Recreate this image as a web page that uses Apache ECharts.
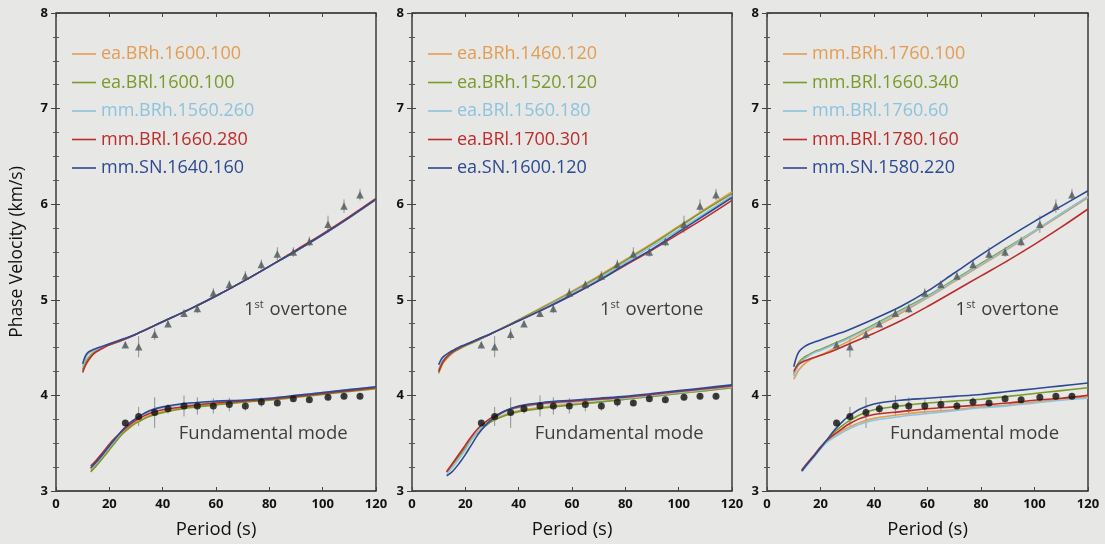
<!DOCTYPE html>
<html><head><meta charset="utf-8">
<script src="https://cdn.jsdelivr.net/npm/echarts@6/dist/echarts.min.js"></script>
<style>html,body{margin:0;padding:0;background:#e7e7e5;} #c{width:1105px;height:544px;}</style>
</head><body><div id="c"></div>
<script>
// ---------- data ----------
const xTicks = [0, 20, 40, 60, 80, 100, 120];
const yTicks = [3, 4, 5, 6, 7, 8];
const periodsOvertone = [10, 11, 12, 14, 16, 18, 20, 25, 30, 40, 50, 60, 70, 80, 90, 100, 110, 120];
const periodsFundamental = [13, 15, 18, 20, 22, 25, 28, 30, 35, 40, 50, 60, 70, 80, 90, 100, 110, 120];

const obsPeriods = [26, 31, 37, 42, 48, 53, 59, 65, 71, 77, 83, 89, 95, 102, 108, 114];
const obsOvertone = [4.53, 4.51, 4.64, 4.75, 4.86, 4.91, 5.07, 5.16, 5.25, 5.37, 5.48, 5.50, 5.61, 5.79, 5.98, 6.10];
const obsOvertoneErr = [0.03, 0.11, 0.06, 0.03, 0.04, 0.05, 0.05, 0.04, 0.05, 0.05, 0.07, 0.05, 0.05, 0.09, 0.07, 0.06];
const obsFundamental = [3.71, 3.78, 3.82, 3.86, 3.89, 3.89, 3.89, 3.905, 3.89, 3.93, 3.92, 3.965, 3.955, 3.98, 3.99, 3.99];
const obsFundamentalErr = [0.03, 0.10, 0.16, 0.05, 0.11, 0.09, 0.08, 0.07, 0.05, 0.05, 0.03, 0.03, 0.03, 0.03, 0.03, 0.03];

const modelColors = ['#e29d52', '#7a9a2a', '#8cc3de', '#bd2c2a', '#2d4992'];

// panel 1
const names1 = ['ea.BRh.1600.100', 'ea.BRl.1600.100', 'mm.BRh.1560.260', 'mm.BRl.1660.280', 'mm.SN.1640.160'];
const p1OvOrange = [4.27, 4.34, 4.39, 4.45, 4.48, 4.51, 4.53, 4.58, 4.64, 4.77, 4.90, 5.04, 5.19, 5.35, 5.51, 5.68, 5.86, 6.05];
const p1OvGreen  = [4.26, 4.33, 4.38, 4.44, 4.48, 4.51, 4.53, 4.58, 4.64, 4.77, 4.90, 5.04, 5.19, 5.35, 5.51, 5.68, 5.86, 6.05];
const p1OvLight  = [4.30, 4.38, 4.43, 4.47, 4.49, 4.51, 4.53, 4.58, 4.64, 4.77, 4.90, 5.04, 5.19, 5.35, 5.51, 5.68, 5.86, 6.05];
const p1OvRed    = [4.24, 4.31, 4.36, 4.43, 4.47, 4.50, 4.53, 4.58, 4.64, 4.77, 4.90, 5.04, 5.19, 5.35, 5.52, 5.69, 5.87, 6.06];
const p1OvBlue   = [4.33, 4.41, 4.45, 4.48, 4.50, 4.52, 4.54, 4.59, 4.64, 4.77, 4.90, 5.04, 5.19, 5.35, 5.51, 5.68, 5.86, 6.05];
const p1FmOrange = [3.22, 3.28, 3.38, 3.45, 3.52, 3.61, 3.68, 3.72, 3.79, 3.83, 3.88, 3.91, 3.93, 3.96, 3.99, 4.02, 4.05, 4.08];
const p1FmGreen  = [3.20, 3.26, 3.36, 3.43, 3.50, 3.60, 3.67, 3.71, 3.78, 3.82, 3.87, 3.90, 3.93, 3.95, 3.98, 4.01, 4.04, 4.07];
const p1FmLight  = [3.23, 3.29, 3.39, 3.46, 3.53, 3.63, 3.71, 3.75, 3.83, 3.87, 3.91, 3.93, 3.95, 3.97, 4.00, 4.03, 4.06, 4.09];
const p1FmRed    = [3.26, 3.32, 3.42, 3.49, 3.55, 3.63, 3.70, 3.74, 3.81, 3.85, 3.89, 3.92, 3.94, 3.96, 3.99, 4.02, 4.05, 4.08];
const p1FmBlue   = [3.24, 3.30, 3.40, 3.47, 3.54, 3.64, 3.72, 3.76, 3.84, 3.88, 3.92, 3.94, 3.95, 3.97, 4.00, 4.03, 4.06, 4.09];

// panel 2
const names2 = ['ea.BRh.1460.120', 'ea.BRh.1520.120', 'ea.BRl.1560.180', 'ea.BRl.1700.301', 'ea.SN.1600.120'];
const p2OvOrange = [4.23, 4.30, 4.35, 4.41, 4.46, 4.49, 4.52, 4.58, 4.65, 4.79, 4.94, 5.09, 5.25, 5.42, 5.59, 5.77, 5.95, 6.13];
const p2OvGreen  = [4.24, 4.31, 4.36, 4.42, 4.46, 4.49, 4.52, 4.58, 4.65, 4.79, 4.93, 5.08, 5.24, 5.41, 5.58, 5.76, 5.94, 6.11];
const p2OvLight  = [4.27, 4.34, 4.38, 4.43, 4.47, 4.50, 4.53, 4.59, 4.65, 4.78, 4.92, 5.07, 5.22, 5.39, 5.56, 5.73, 5.91, 6.09];
const p2OvRed    = [4.25, 4.32, 4.37, 4.43, 4.47, 4.50, 4.53, 4.59, 4.65, 4.78, 4.91, 5.05, 5.20, 5.36, 5.52, 5.69, 5.86, 6.04];
const p2OvBlue   = [4.32, 4.38, 4.41, 4.45, 4.48, 4.51, 4.53, 4.59, 4.65, 4.78, 4.91, 5.05, 5.20, 5.37, 5.53, 5.71, 5.89, 6.07];
const p2FmOrange = [3.21, 3.28, 3.39, 3.46, 3.54, 3.63, 3.70, 3.74, 3.80, 3.84, 3.88, 3.91, 3.93, 3.96, 3.99, 4.02, 4.05, 4.08];
const p2FmGreen  = [3.20, 3.27, 3.38, 3.45, 3.53, 3.62, 3.69, 3.73, 3.79, 3.83, 3.87, 3.90, 3.93, 3.96, 3.99, 4.02, 4.05, 4.08];
const p2FmLight  = [3.18, 3.24, 3.35, 3.43, 3.52, 3.63, 3.71, 3.75, 3.83, 3.87, 3.91, 3.93, 3.95, 3.97, 4.00, 4.03, 4.06, 4.09];
const p2FmRed    = [3.20, 3.28, 3.40, 3.48, 3.56, 3.66, 3.73, 3.77, 3.84, 3.88, 3.92, 3.94, 3.96, 3.98, 4.01, 4.04, 4.07, 4.10];
const p2FmBlue   = [3.16, 3.20, 3.30, 3.38, 3.47, 3.60, 3.70, 3.75, 3.84, 3.89, 3.93, 3.95, 3.97, 3.99, 4.02, 4.05, 4.08, 4.11];

// panel 3
const names3 = ['mm.BRh.1760.100', 'mm.BRl.1660.340', 'mm.BRl.1760.60', 'mm.BRl.1780.160', 'mm.SN.1580.220'];
const p3OvOrange = [4.17, 4.22, 4.27, 4.33, 4.37, 4.40, 4.42, 4.49, 4.56, 4.71, 4.86, 5.02, 5.19, 5.36, 5.53, 5.71, 5.89, 6.07];
const p3OvGreen  = [4.22, 4.30, 4.35, 4.40, 4.43, 4.46, 4.48, 4.54, 4.60, 4.74, 4.89, 5.04, 5.21, 5.38, 5.55, 5.72, 5.90, 6.08];
const p3OvLight  = [4.20, 4.27, 4.32, 4.38, 4.42, 4.45, 4.47, 4.53, 4.59, 4.73, 4.88, 5.03, 5.20, 5.37, 5.54, 5.72, 5.90, 6.08];
const p3OvRed    = [4.25, 4.30, 4.33, 4.36, 4.38, 4.40, 4.42, 4.47, 4.53, 4.65, 4.78, 4.93, 5.09, 5.25, 5.41, 5.58, 5.76, 5.95];
const p3OvBlue   = [4.30, 4.40, 4.46, 4.51, 4.54, 4.56, 4.58, 4.63, 4.68, 4.80, 4.93, 5.09, 5.28, 5.47, 5.65, 5.82, 5.98, 6.14];
const p3FmOrange = [3.21, 3.28, 3.38, 3.45, 3.51, 3.58, 3.63, 3.66, 3.72, 3.76, 3.80, 3.83, 3.85, 3.88, 3.90, 3.93, 3.96, 3.98];
const p3FmGreen  = [3.21, 3.28, 3.38, 3.45, 3.52, 3.61, 3.68, 3.72, 3.80, 3.85, 3.89, 3.92, 3.94, 3.96, 3.99, 4.02, 4.05, 4.08];
const p3FmLight  = [3.20, 3.27, 3.37, 3.44, 3.50, 3.56, 3.61, 3.64, 3.70, 3.74, 3.78, 3.81, 3.84, 3.87, 3.89, 3.92, 3.95, 3.97];
const p3FmRed    = [3.22, 3.29, 3.39, 3.46, 3.52, 3.59, 3.65, 3.69, 3.76, 3.80, 3.83, 3.86, 3.88, 3.90, 3.92, 3.95, 3.97, 4.00];
const p3FmBlue   = [3.21, 3.28, 3.38, 3.45, 3.52, 3.63, 3.72, 3.77, 3.86, 3.91, 3.95, 3.97, 3.99, 4.01, 4.04, 4.07, 4.10, 4.13];

const overtoneLabelAt = [70.5, 4.9];
const fundamentalLabelAt = [46, 3.6];

// ---------- build ----------
const FONT = 'Open Sans';
const panels = [
  { names: names1, ov: [p1OvOrange, p1OvGreen, p1OvLight, p1OvRed, p1OvBlue], fm: [p1FmOrange, p1FmGreen, p1FmLight, p1FmRed, p1FmBlue], grid: {left: 56, top: 13, width: 320, height: 478} },
  { names: names2, ov: [p2OvOrange, p2OvGreen, p2OvLight, p2OvRed, p2OvBlue], fm: [p2FmOrange, p2FmGreen, p2FmLight, p2FmRed, p2FmBlue], grid: {left: 412, top: 13, width: 320, height: 479} },
  { names: names3, ov: [p3OvOrange, p3OvGreen, p3OvLight, p3OvRed, p3OvBlue], fm: [p3FmOrange, p3FmGreen, p3FmLight, p3FmRed, p3FmBlue], grid: {left: 767, top: 13, width: 321, height: 480} }
];

const zip = (xs, ys) => xs.map((x, i) => [x, ys[i]]);
const grids = [], xAxes = [], yAxes = [], series = [], legends = [];
const labelStyle = {color: '#111', fontFamily: FONT, fontWeight: 'bold', fontSize: 13};

panels.forEach((p, i) => {
  grids.push(Object.assign({show: true, borderColor: '#222', borderWidth: 1.3, backgroundColor: 'transparent'}, p.grid));
  xAxes.push({
    gridIndex: i, type: 'value', min: xTicks[0], max: xTicks[xTicks.length - 1], interval: xTicks[1] - xTicks[0],
    axisLine: {show: false}, splitLine: {show: false},
    axisTick: {show: true, inside: true, length: 4, lineStyle: {color: '#444'}},
    axisLabel: Object.assign({margin: 7}, labelStyle),
    name: 'Period (s)', nameLocation: 'middle', nameGap: 29,
    nameTextStyle: {color: '#111', fontFamily: FONT, fontSize: 18.5}
  });
  xAxes.push({
    gridIndex: i, type: 'value', position: 'top', min: xTicks[0], max: xTicks[xTicks.length - 1], interval: xTicks[1] - xTicks[0],
    axisLine: {show: false}, splitLine: {show: false}, axisLabel: {show: false},
    axisTick: {show: true, inside: true, length: 4, lineStyle: {color: '#444'}}
  });
  yAxes.push({
    gridIndex: i, type: 'value', min: yTicks[0], max: yTicks[yTicks.length - 1], interval: 1,
    axisLine: {show: false}, splitLine: {show: false},
    axisTick: {show: true, length: 5, lineStyle: {color: '#444'}},
    minorTick: {show: true, splitNumber: 4, length: 3, lineStyle: {color: '#555'}},
    axisLabel: Object.assign({margin: 8}, labelStyle),
    name: i === 0 ? 'Phase Velocity (km/s)' : '', nameLocation: 'middle', nameGap: 30,
    nameTextStyle: {color: '#111', fontFamily: FONT, fontSize: 17.5}
  });
  yAxes.push({
    gridIndex: i, type: 'value', position: 'right', min: yTicks[0], max: yTicks[yTicks.length - 1], interval: 1,
    axisLine: {show: false}, splitLine: {show: false}, axisLabel: {show: false},
    axisTick: {show: true, length: 4, lineStyle: {color: '#444'}},
    minorTick: {show: true, splitNumber: 4, length: 3, lineStyle: {color: '#555'}}
  });
  const xi = i * 2, yi = i * 2;
  // error bars
  const errSeries = (vals, errs, color) => ({
    type: 'custom', xAxisIndex: xi, yAxisIndex: yi, silent: true, z: 1,
    data: obsPeriods.map((t, k) => [t, vals[k], errs[k]]),
    renderItem: (params, api) => {
      const a = api.coord([api.value(0), api.value(1) - api.value(2)]);
      const b = api.coord([api.value(0), api.value(1) + api.value(2)]);
      return {type: 'line', shape: {x1: a[0], y1: a[1], x2: b[0], y2: b[1]}, style: {stroke: color, lineWidth: 1}};
    }
  });
  series.push(errSeries(obsOvertone, obsOvertoneErr, '#909090'));
  series.push(errSeries(obsFundamental, obsFundamentalErr, '#909090'));
  // model curves
  p.names.forEach((n, k) => {
    [[periodsOvertone, p.ov[k]], [periodsFundamental, p.fm[k]]].forEach(([xs, ys]) => {
      series.push({
        type: 'line', name: n, xAxisIndex: xi, yAxisIndex: yi, data: zip(xs, ys),
        smooth: 0.35, symbol: 'none', silent: true, z: 3 + k,
        lineStyle: {color: modelColors[k], width: 1.6}, itemStyle: {color: modelColors[k]}
      });
    });
  });
  // observations
  series.push({
    type: 'scatter', xAxisIndex: xi, yAxisIndex: yi, data: zip(obsPeriods, obsOvertone),
    symbol: 'triangle', symbolSize: 7.5, itemStyle: {color: '#4f575d'}, z: 10, silent: true
  });
  series.push({
    type: 'scatter', xAxisIndex: xi, yAxisIndex: yi, data: zip(obsPeriods, obsFundamental),
    symbol: 'circle', symbolSize: 7, itemStyle: {color: '#111'}, z: 10, silent: true
  });
  // annotations
  series.push({
    type: 'scatter', xAxisIndex: xi, yAxisIndex: yi, symbolSize: 0, silent: true, z: 12,
    data: [
      {value: overtoneLabelAt, label: {formatter: '1{sup|st} overtone'}},
      {value: fundamentalLabelAt, label: {formatter: 'Fundamental mode'}}
    ],
    label: {
      show: true, position: 'right', distance: 0, color: '#111', fontFamily: FONT, fontSize: 18.5,
      rich: {sup: {fontSize: 11, color: '#111', fontFamily: FONT, padding: [0, 1, 10, 0]}}
    }
  });
  legends.push({
    orient: 'vertical', left: p.grid.left + 16, top: 44, padding: 0, selectedMode: false,
    icon: 'path://M0,0H24V1.6H0Z', itemWidth: 24, itemHeight: 2, itemGap: 8.5,
    textStyle: {fontFamily: FONT, fontSize: 18, lineHeight: 20},
    data: p.names.map((n, k) => ({name: n, textStyle: {color: modelColors[k]}}))
  });
});

const chart = echarts.init(document.getElementById('c'), null, {renderer: 'canvas'});
chart.setOption({
  backgroundColor: '#e7e7e5', animation: false,
  grid: grids, xAxis: xAxes, yAxis: yAxes, legend: legends, series: series
});
</script></body></html>
